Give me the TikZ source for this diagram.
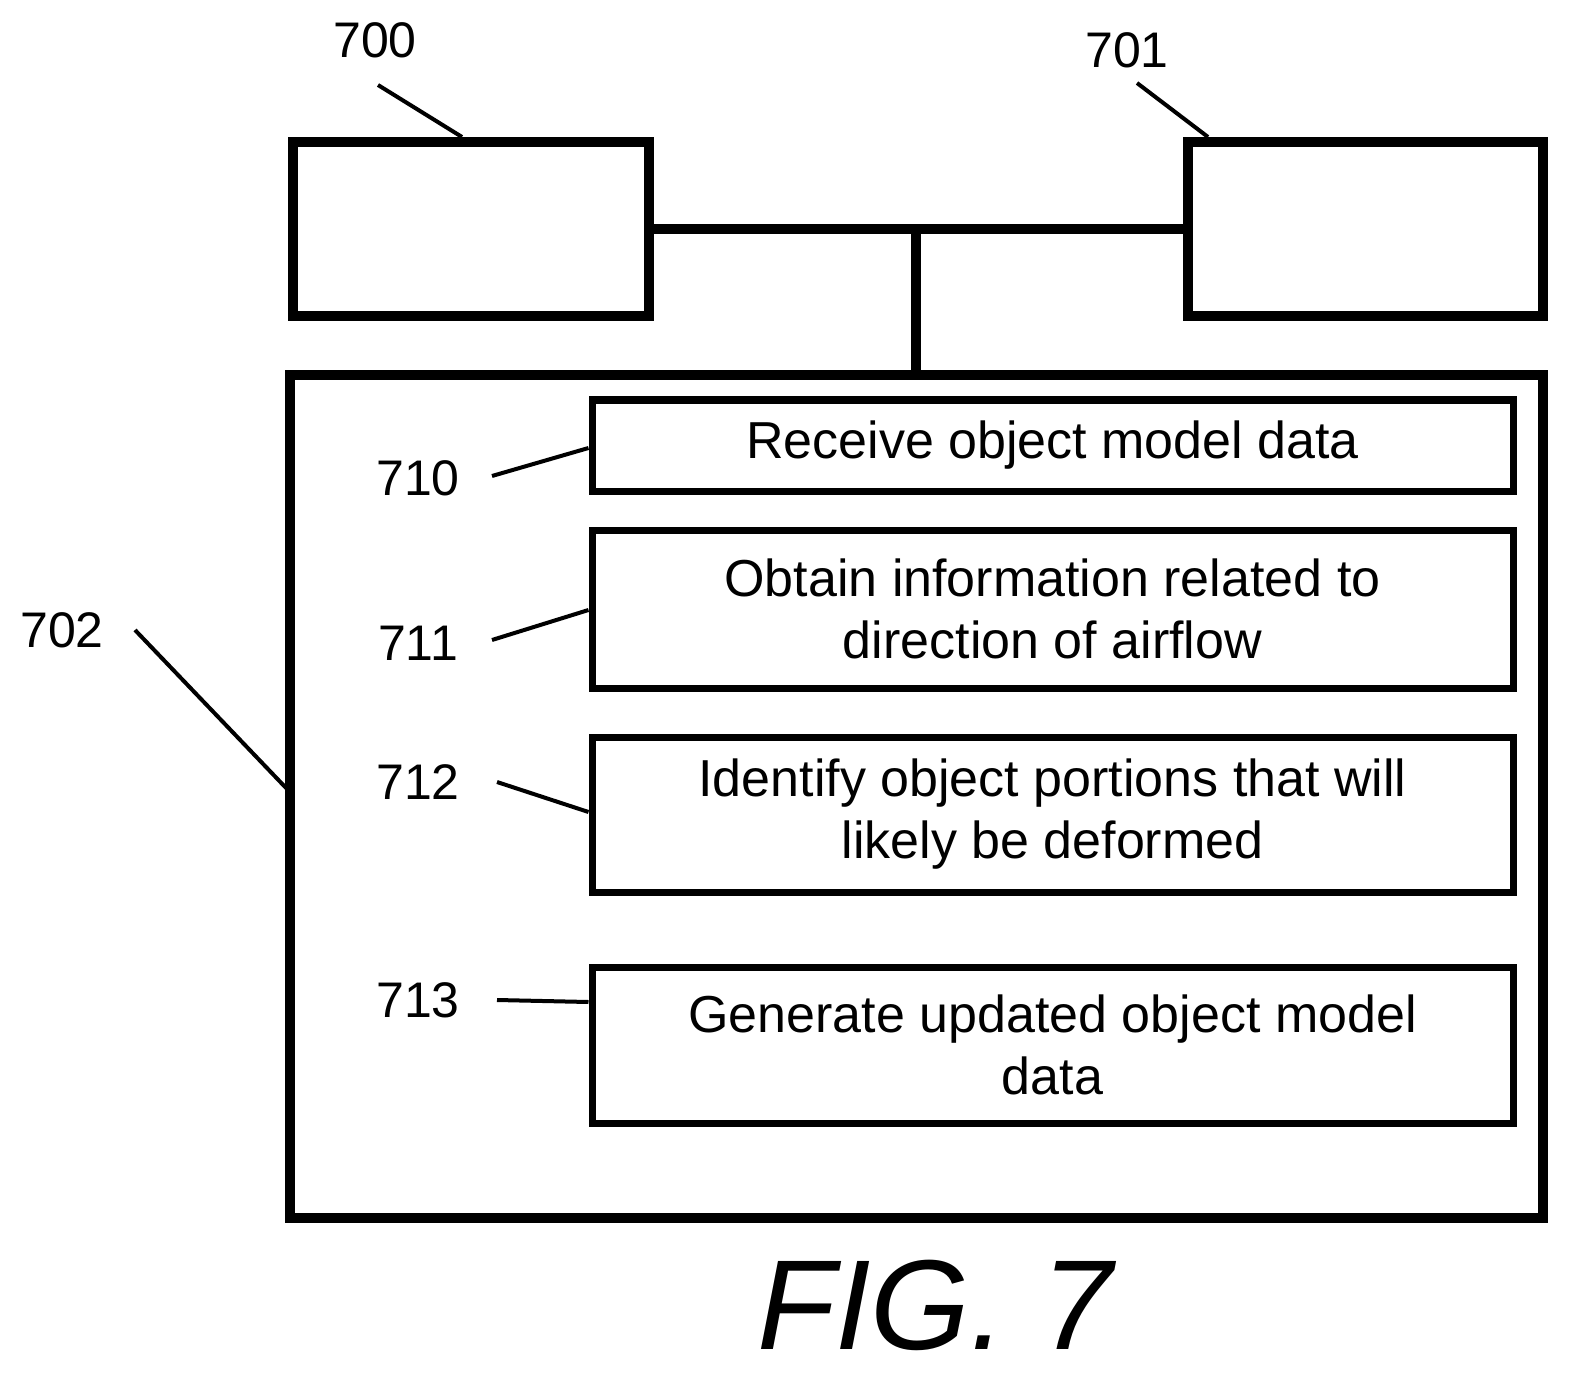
\documentclass[tikz,border=0pt]{standalone}
\usepackage{fontspec}
\setmainfont{Liberation Sans}
\begin{document}
\begin{tikzpicture}[x=0.5pt,y=-0.5pt,
  big/.style={draw,line width=5pt},
  stepbox/.style={draw,line width=3.5pt},
  lead/.style={line width=2pt},
  txt/.style={font=\fontsize{26}{31}\selectfont,align=center},
  lbl/.style={font=\fontsize{25}{30}\selectfont}]
\useasboundingbox (0,0) rectangle (1589,1385);
\node[big,minimum width=178pt,minimum height=87pt] (b700) at (471,229) {};
\node[big,minimum width=177.5pt,minimum height=87pt] (b701) at (1365.5,229) {};
\node[big,minimum width=626.5pt,minimum height=421.5pt] (b702) at (916.5,796.5) {};
\coordinate (j) at (916,229);
\draw[big] (b700.east) -- (b701.west);
\draw[big] (j) -- (b702.north -| j);
\node[stepbox,txt,minimum width=460.5pt,minimum height=45.5pt] (s710) at (1052.5,445.5) {Receive object model data};
\node[stepbox,txt,minimum width=460.5pt,minimum height=79pt] (s711) at (1052.5,609) {Obtain information related to\\direction of airflow};
\node[stepbox,txt,minimum width=460.5pt,minimum height=77.5pt] (s712) at (1052.5,814.5) {Identify object portions that will\\likely be deformed};
\node[stepbox,txt,minimum width=460.5pt,minimum height=78pt] (s713) at (1052.5,1045) {Generate updated object model\\data};
\node[lbl] (l700) at (375,40) {700};
\node[lbl] (l701) at (1127,50) {701};
\node[lbl] (l702) at (62,630) {702};
\node[lbl] (l710) at (418,478) {710};
\node[lbl] (l711) at (418,643) {711};
\node[lbl] (l712) at (418,782) {712};
\node[lbl] (l713) at (418,1000) {713};
\coordinate (a0) at (378,85); \coordinate (a1) at (462,137);
\coordinate (c0) at (1137,83); \coordinate (c1) at (1208,137);
\coordinate (d0) at (135,630); \coordinate (d1) at (288,790);
\draw[lead] (a0) -- (a1);
\draw[lead] (c0) -- (c1);
\draw[lead] (d0) -- (d1);
\draw[lead] (492,476) -- (s710.west |- 0,448);
\draw[lead] (492,640) -- (s711.west |- 0,610);
\draw[lead] (497,782) -- (s712.west |- 0,812);
\draw[lead] (497,1000) -- (s713.west |- 0,1002);
\node[font=\fontsize{64}{70}\selectfont\itshape] (fig) at (935,1305) {FIG. 7};
\end{tikzpicture}
\end{document}
